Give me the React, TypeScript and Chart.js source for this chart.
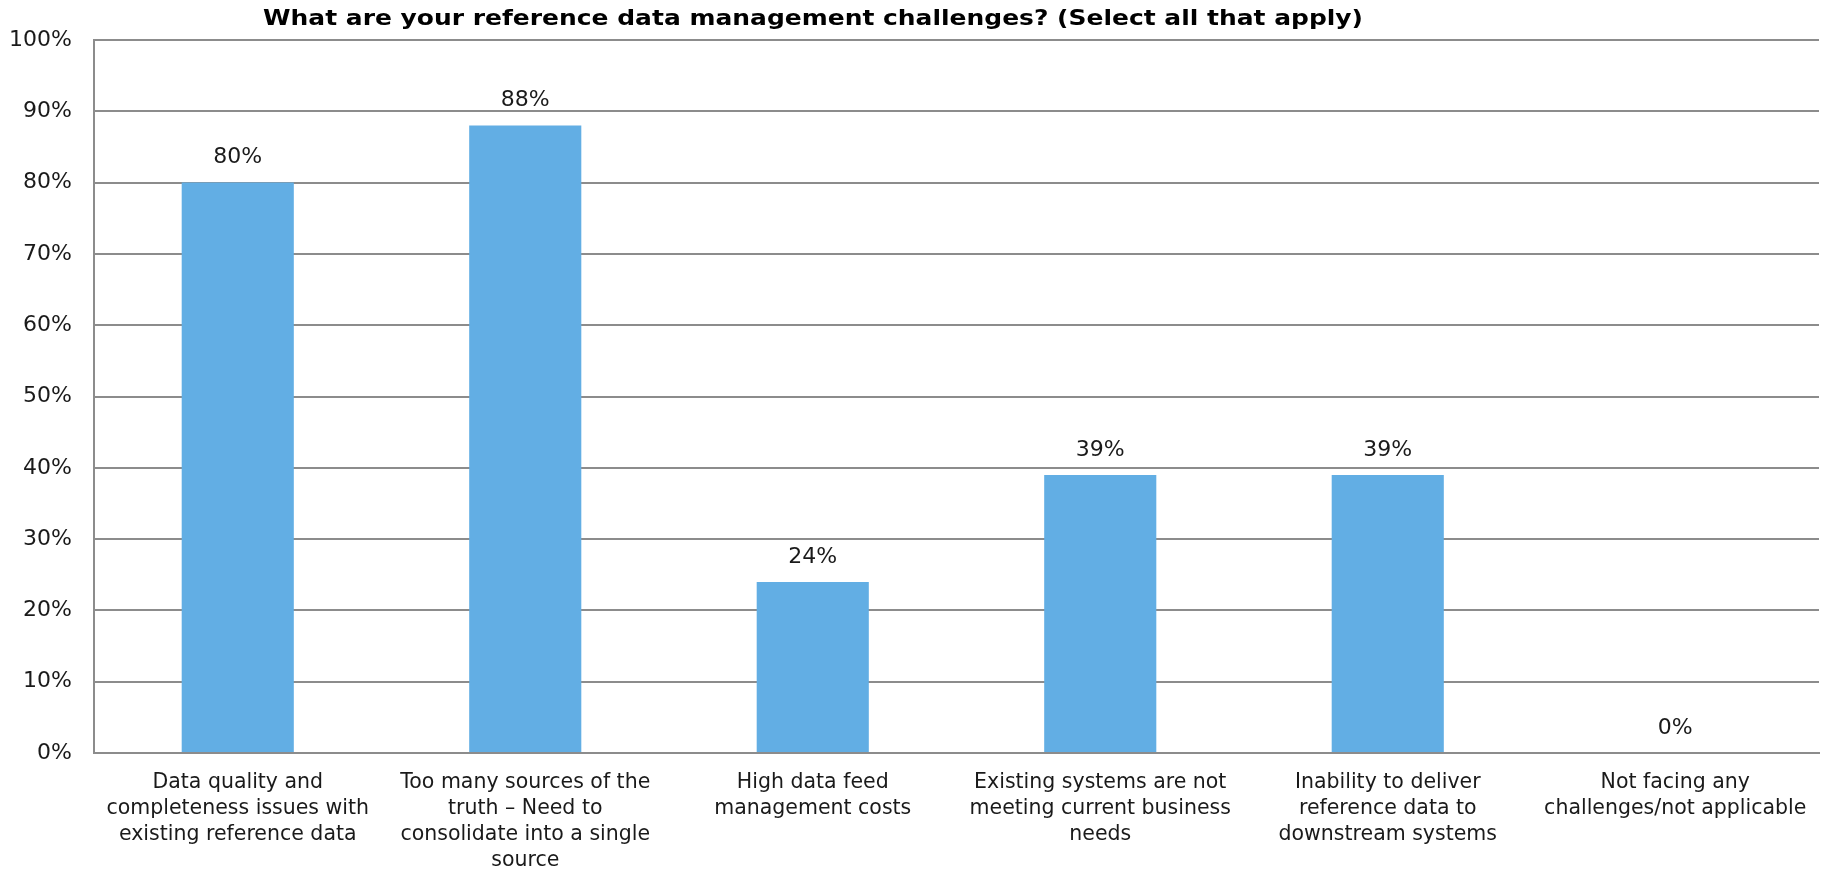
import React, { useEffect, useRef } from "react";
import { Chart, registerables } from "chart.js";

Chart.register(...registerables);

const titleText = "What are your reference data management challenges? (Select all that apply)";
const categories: string[][] = [
  ["Data quality and", "completeness issues with", "existing reference data"],
  ["Too many sources of the", "truth – Need to", "consolidate into a single", "source"],
  ["High data feed", "management costs"],
  ["Existing systems are not", "meeting current business", "needs"],
  ["Inability to deliver", "reference data to", "downstream systems"],
  ["Not facing any", "challenges/not applicable"],
];
const values: number[] = [80, 88, 24, 39, 39, 0];
const yTicks: number[] = [0, 10, 20, 30, 40, 50, 60, 70, 80, 90, 100];

const FONT = "'DejaVu Sans', Verdana, sans-serif";

const labelPlugin = {
  id: "valueLabels",
  afterDatasetsDraw(chart: any) {
    const ctx = chart.ctx;
    const meta = chart.getDatasetMeta(0);
    ctx.save();
    ctx.font = `22px ${FONT}`;
    ctx.fillStyle = "#1a1a1a";
    ctx.textAlign = "center";
    ctx.textBaseline = "middle";
    meta.data.forEach((bar: any, i: number) => {
      ctx.fillText(`${values[i]}%`, bar.x, bar.y - 25);
    });
    ctx.restore();
  },
};

const titlePlugin = {
  id: "customTitle",
  afterDraw(chart: any) {
    const ctx = chart.ctx;
    ctx.save();
    ctx.font = `bold 21px ${FONT}`;
    ctx.fillStyle = "#000000";
    ctx.textAlign = "center";
    ctx.textBaseline = "middle";
    const w = ctx.measureText(titleText).width;
    const sx = 1100 / w;
    ctx.translate(813, 20);
    ctx.scale(sx, 1);
    ctx.fillText(titleText, 0, 0);
    ctx.restore();
  },
};

export default function App() {
  const ref = useRef<HTMLCanvasElement | null>(null);
  useEffect(() => {
    document.body.style.margin = "0";
    const canvas = ref.current!;
    const chart = new Chart(canvas, {
      type: "bar",
      data: {
        labels: categories,
        datasets: [
          {
            data: values,
            backgroundColor: "#62AEE4",
            borderWidth: 0,
            categoryPercentage: 1,
            barPercentage: 0.39,
          },
        ],
      },
      options: {
        responsive: false,
        animation: false,
        layout: { padding: { top: 40, right: 11, left: 0, bottom: 0 } },
        plugins: {
          legend: { display: false },
          title: { display: false },
          tooltip: { enabled: false },
        },
        scales: {
          x: {
            grid: { display: false, drawTicks: false },
            border: { display: true, color: "#8c8c8c", width: 2 },
            ticks: {
              color: "#1a1a1a",
              font: { family: FONT, size: 20.5, lineHeight: 1.27 },
              padding: 17,
              maxRotation: 0,
              autoSkip: false,
            },
            afterFit(scale: any) {
              scale.height = 117;
            },
          },
          y: {
            min: 0,
            max: 100,
            afterBuildTicks(scale: any) {
              scale.ticks = yTicks.map((v) => ({ value: v }));
            },
            grid: { color: "#8c8c8c", lineWidth: 2, drawTicks: false },
            border: { display: true, color: "#8c8c8c", width: 2 },
            ticks: {
              color: "#1a1a1a",
              font: { family: FONT, size: 22 },
              padding: 22,
              callback: (v: any) => `${v}%`,
            },
            afterFit(scale: any) {
              scale.width = 94;
            },
          },
        },
      },
      plugins: [labelPlugin, titlePlugin],
    });
    return () => chart.destroy();
  }, []);
  return <canvas ref={ref} width={1830} height={870} style={{ display: "block" }} />;
}
